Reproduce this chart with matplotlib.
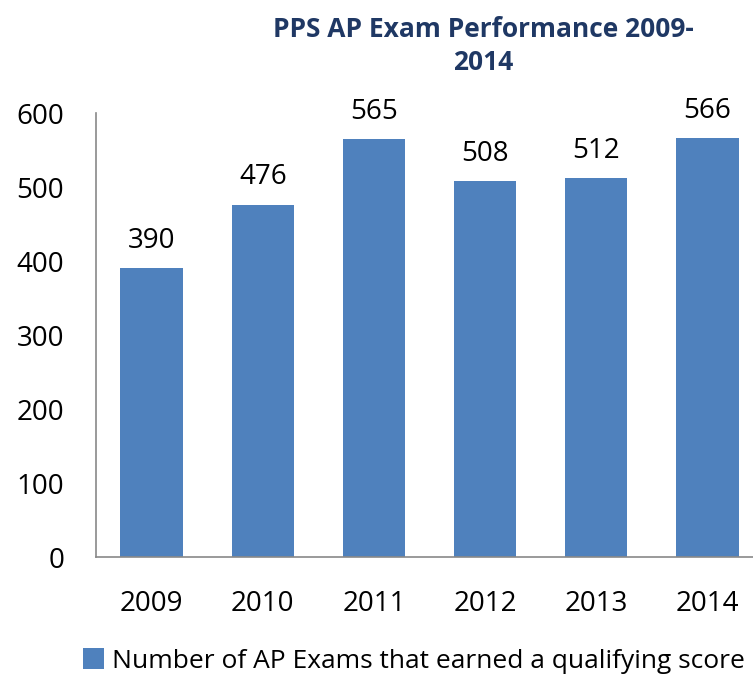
import matplotlib
matplotlib.use("Agg")
import matplotlib.pyplot as plt
from matplotlib.patches import Patch

years = ["2009", "2010", "2011", "2012", "2013", "2014"]
values = [390, 476, 565, 508, 512, 566]
yticks = [0, 100, 200, 300, 400, 500, 600]
title = "PPS AP Exam Performance 2009-\n2014"
legend_label = "Number of AP Exams that earned a qualifying score"

plt.rcParams['font.family'] = ['Open Sans', 'DejaVu Sans']

W, H = 753, 676
fig = plt.figure(figsize=(W / 100, H / 100), dpi=100)
left, right, top, bottom = 96, 763, 113, 557
ax = fig.add_axes([left / W, 1 - bottom / H, (right - left) / W, (bottom - top) / H])

color = "#4F81BD"
x = list(range(len(years)))
bars = ax.bar(x, values, width=0.56, color=color)
for xi, v in zip(x, values):
    ax.text(xi, v + 18, str(v), ha="center", va="bottom", fontsize=20, color="black")

ax.set_xlim(-0.5, 5.5)
ax.set_ylim(0, 600)
ax.set_yticks(yticks)
ax.set_xticks(x)
ax.set_xticklabels(years)
ax.tick_params(axis="both", length=0, labelsize=20, colors="black")
ax.tick_params(axis="x", pad=24)
ax.tick_params(axis="y", pad=23)
ax.spines["top"].set_visible(False)
ax.spines["right"].set_visible(False)
ax.spines["left"].set_color("#898989")
ax.spines["bottom"].set_color("#898989")
ax.spines["left"].set_linewidth(1.2)
ax.spines["bottom"].set_linewidth(1.2)

fig.text(483 / W, 1 - 46 / H, title, ha="center", va="center", fontsize=19,
         fontweight="bold", color="#1F3864", linespacing=1.25)

handle = Patch(facecolor=color, edgecolor="none")
fig.legend([handle], [legend_label], loc="center", bbox_to_anchor=(414 / W, 1 - 661 / H),
           frameon=False, fontsize=19, handlelength=0.8, handleheight=0.8,
           handletextpad=0.3)

fig.savefig("out.png", dpi=100)
